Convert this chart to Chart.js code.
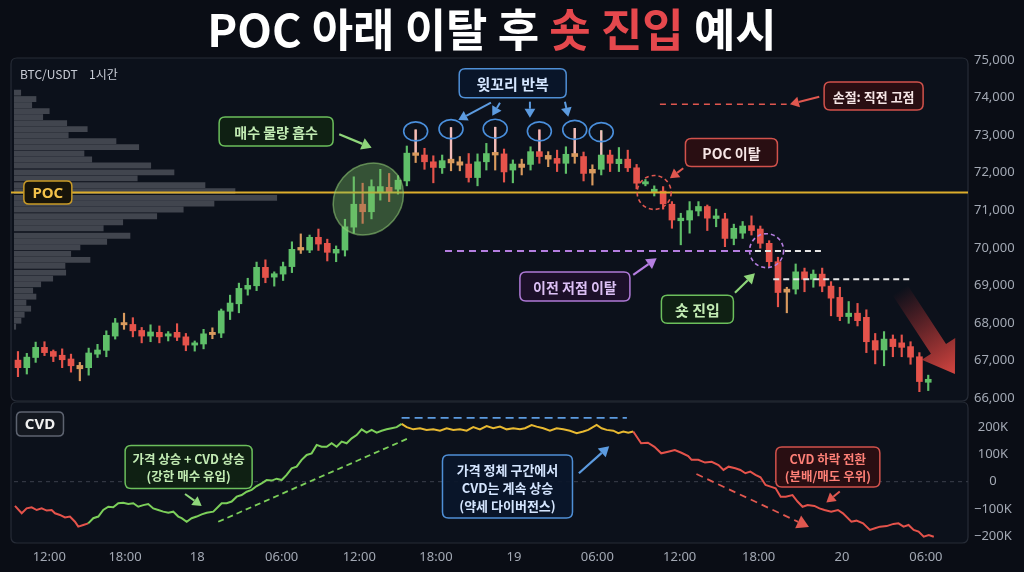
<!DOCTYPE html>
<html><head><meta charset="utf-8">
<script src="https://cdn.jsdelivr.net/npm/chart.js@4.4.1/dist/chart.umd.min.js"></script>
<style>html,body{margin:0;padding:0;background:#0a0d15;}canvas{display:block}</style>
</head><body>
<canvas id="c" width="1024" height="572"></canvas>
<script>
// ---------- DATA ----------
const opens=[67010,66810,67080,67350,67240,67140,67040,66870,66810,67170,
 67270,67650,68010,67960,67800,67650,67750,67650,67750,67630,
 67410,67440,67750,67730,68310,68510,68900,68990,69480,69220,
 69300,69500,70010,69940,70280,70120,69860,69940,70550,71160,
 70960,71480,71610,71560,71780,72530,72470,72290,72130,72360,
 72290,72230,71870,72290,72540,72500,72070,72230,72220,72560,
 72460,72380,72250,72510,72430,72090,72090,72470,72240,72360,
 72130,71700,71490,71510,71160,70720,70740,70980,71100,70780,
 70770,70250,70390,70590,70500,70120,69630,68900,68900,69360,
 69160,69300,68980,68680,68170,68260,68150,67530,67280,67570,
 67470,67370,67100,66420];
const closes=[66810,67090,67350,67210,67110,67020,66860,66780,67200,67280,
 67670,68000,67950,67790,67650,67760,67630,67710,67620,67410,
 67470,67710,67690,68320,68530,68920,69000,69480,69210,69310,
 69500,69960,69940,70280,70100,69880,69960,70560,71160,70960,
 71630,71630,71490,71800,72520,72460,72290,72140,72320,72260,
 72200,71870,72290,72510,72470,72020,72230,72140,72560,72430,
 72360,72250,72490,72430,71980,71990,72470,72250,72360,72130,
 71720,71760,71560,71170,70740,70790,70990,71100,70790,70850,
 70250,70520,70580,70460,70120,69630,68810,68820,69360,69160,
 69300,68980,68660,68170,68260,68060,67500,67280,67570,67370,
 67350,67090,66440,66500];
const highs=[67240,67190,67490,67500,67280,67310,67170,66950,67330,67430,
 67790,68120,68260,68140,67880,67950,67920,67770,67980,67720,
 67520,67830,67870,68370,68740,69060,69190,69620,69680,69360,
 69620,70160,70370,70340,70500,70230,70050,70760,71890,71720,
 71810,72090,71980,71920,72710,73140,72650,72450,72470,73200,
 72430,72510,72500,72780,73210,72630,72340,72360,72690,73140,
 72560,72600,72690,73180,72550,72210,73120,72600,72670,72600,
 72220,71820,71650,71630,71230,70920,71230,71230,71140,71030,
 70920,70630,70700,70850,70580,70190,69750,68950,69570,69460,
 69410,69460,69100,68950,68570,68520,68350,67720,67770,67680,
 67680,67500,67210,66610];
const lows=[66570,66640,66950,67130,66970,66810,66690,66460,66610,67080,
 67100,67570,67830,67630,67470,67500,67470,67520,67530,67260,
 67250,67310,67580,67610,68090,68270,68740,68860,69070,68980,
 69130,69340,69850,69870,69930,69650,69630,69780,70390,70650,
 70770,71270,71230,71430,71650,72270,72090,71730,71980,72050,
 72050,71750,71650,72070,72070,71750,71730,71940,72070,72250,
 72160,72030,71980,72250,71780,71670,71940,72030,72030,72030,
 71570,71650,71380,71030,70520,70080,70390,70850,70460,70560,
 70030,70080,70250,70340,69990,69500,68430,68270,68770,68830,
 68950,68830,68190,68060,67990,67920,67210,66910,66860,67100,
 67100,66900,66170,66200];
const wickHighlights=[46,50,55,60,64,67];

const volPrices=[74130,73960,73800,73640,73480,73320,73160,73000,72840,72680,72510,72350,72190,72010,71850,71670,71510,71330,71180,71020,70840,70680,70520,70320,70160,70010,69840,69680,69520,69340,69180,69030,68860,68700,68540,68380,68220,68060,67900];
const volAmounts=[27,88,71,141,115,211,293,217,408,499,280,311,547,640,493,764,884,1051,800,677,571,435,357,464,371,264,227,304,204,207,155,107,75,88,48,67,41,28,7];

const cvdIdx=[0.66,1.42,1.98,2.55,3.12,3.68,4.25,4.81,5.19,5.75,6.32,6.88,7.45,7.82,8.39,8.95,
 9.52,10.09,10.65,11.22,11.78,12.35,12.91,13.48,14.05,14.61,15.18,15.74,16.31,16.87,17.44,18.01,18.57,19.14,19.52,20.09,20.65,21.22,21.79,22.35,23.10,23.66,24.05,24.61,25.18,25.75,26.31,26.88,27.44,28.01,28.57,29.14,29.71,30.27,30.84,31.40,31.97,32.53,33.10,33.67,34.23,34.80,35.36,35.93,36.49,37.06,37.63,38.19,38.76,39.32,39.89,40.45,41.02,41.59,42.15,42.72,43.28,43.85,44.41,
 44.98,45.73,46.49,47.24,47.99,48.75,49.51,50.26,51.01,51.77,52.52,53.27,54.03,54.78,55.54,56.30,57.04,57.80,58.37,59.12,59.69,60.44,61.19,61.95,62.70,63.46,64.22,64.97,65.53,66.48,67.04,67.61,68.36,68.93,69.50,70.06,70.62,
 71.51,72.28,73.02,73.79,74.56,75.32,76.07,76.84,77.22,77.98,78.74,79.50,80.27,80.83,81.41,82.17,82.74,83.31,83.87,84.45,85.02,85.59,86.16,86.73,87.30,87.88,88.64,89.21,89.78,90.35,91.12,91.69,92.26,93.02,93.78,94.35,95.30,95.88,96.63,97.40,97.97,98.54,99.30,100.06,100.63,101.21,101.77,102.35,102.91,103.49,104.06,104.63];
const cvdK=[-89,-116,-98,-94,-104,-98,-106,-104,-116,-122,-131,-128,-147,-165,-159,-153,
 -134,-128,-104,-92,-94,-79,-77,-82,-79,-92,-86,-82,-98,-104,-110,-114,-110,-128,-134,-147,-134,-128,-120,-114,-110,-92,-79,-79,-73,-55,-49,-37,-30,-16,-6,6,4,11,6,25,49,55,80,98,104,135,128,128,141,128,147,141,159,171,192,180,190,180,187,192,196,200,212,
 200,192,196,190,192,187,196,190,192,187,200,192,204,196,202,192,196,192,196,208,202,196,187,196,192,187,178,184,190,208,196,190,187,178,184,180,184,
 141,143,128,104,110,116,106,94,80,80,70,73,61,43,55,49,43,31,37,25,16,-12,-18,-24,-55,-55,-49,-73,-92,-86,-89,-98,-104,-110,-104,-116,-147,-143,-153,-177,-171,-165,-163,-155,-153,-165,-159,-177,-183,-202,-196,-202];
const cvdGreenFrom=8.95, cvdYellowFrom=44.41, cvdRedFrom=70.62;

const priceTicks=[66000,67000,68000,69000,70000,71000,72000,73000,74000,75000];
const cvdTicks=[-200,-100,0,100,200];
const timeTickPos=[4.54,13.11,21.29,30.84,39.62,48.30,57.13,66.56,75.87,84.81,94.23,103.74];
const timeTickLabels=['12:00','18:00','18','06:00','12:00','18:00','19','06:00','12:00','18:00','20','06:00'];

const POC=71470, stopPrice=73821, prevLow=69915, entryLevel=69162, cvdPlateau=234;

// ---------- STYLE ----------
const GREEN='#5fbf69', RED='#e5534b', TAN='#d99a5e', WICK_HI='#f2bcbc';
const KR="'Noto Sans CJK KR','Noto Sans',sans-serif";
const AX="'Noto Sans','Liberation Sans',sans-serif";
function candleColor(i){const o=opens[i],c=closes[i]; if(c>=o) return GREEN; return (o-c)<110?TAN:RED;}

const bodyData=opens.map((o,i)=>({x:i+1,y:[o,closes[i]]}));
const wickData=opens.map((o,i)=>({x:i+1,y:[lows[i],highs[i]]}));
const hiWickData=wickHighlights.map(n=>({x:n,y:[Math.max(opens[n-1],closes[n-1]),highs[n-1]]}));
const cvdData=cvdIdx.map((x,i)=>({x,y:cvdK[i]}));
const volData=volPrices.map((p,i)=>({x:volAmounts[i],y:p}));

function rr(ctx,x,y,w,h,r){ctx.beginPath();ctx.moveTo(x+r,y);ctx.lineTo(x+w-r,y);ctx.quadraticCurveTo(x+w,y,x+w,y+r);ctx.lineTo(x+w,y+h-r);ctx.quadraticCurveTo(x+w,y+h,x+w-r,y+h);ctx.lineTo(x+r,y+h);ctx.quadraticCurveTo(x,y+h,x,y+h-r);ctx.lineTo(x,y+r);ctx.quadraticCurveTo(x,y,x+r,y);ctx.closePath();}
function box(ctx,cx,cy,w,h,o){
  rr(ctx,cx-w/2,cy-h/2,w,h,o.r||6); ctx.fillStyle=o.fill; ctx.fill(); ctx.lineWidth=o.lw||1.5; ctx.strokeStyle=o.stroke; ctx.setLineDash([]); ctx.stroke();
  ctx.fillStyle=o.color; ctx.font=o.font; ctx.textAlign='center'; ctx.textBaseline='middle';
  const n=o.lines.length; o.lines.forEach((t,i)=>ctx.fillText(t,cx,cy+(i-(n-1)/2)*(o.lh||17)+1));
}
function arrow(ctx,x1,y1,x2,y2,color,o){
  o=o||{}; const lw=o.lw||2, hl=o.head||9, hw=o.hw||hl*0.6;
  const ang=Math.atan2(y2-y1,x2-x1); const bx=x2-hl*Math.cos(ang), by=y2-hl*Math.sin(ang);
  ctx.save(); ctx.strokeStyle=color; ctx.fillStyle=color; ctx.lineWidth=lw; ctx.setLineDash(o.dash||[]);
  ctx.beginPath(); ctx.moveTo(x1,y1); ctx.lineTo(bx,by); ctx.stroke(); ctx.setLineDash([]);
  ctx.beginPath(); ctx.moveTo(x2,y2); ctx.lineTo(bx+hw*Math.sin(ang),by-hw*Math.cos(ang)); ctx.lineTo(bx-hw*Math.sin(ang),by+hw*Math.cos(ang)); ctx.closePath(); ctx.fill(); ctx.restore();
}
function dline(ctx,x1,y1,x2,y2,color,lw,dash){ctx.save();ctx.strokeStyle=color;ctx.lineWidth=lw;ctx.setLineDash(dash||[]);ctx.beginPath();ctx.moveTo(x1,y1);ctx.lineTo(x2,y2);ctx.stroke();ctx.restore();}
function circ(ctx,x,y,rx,ry,color,lw,dash){ctx.save();ctx.strokeStyle=color;ctx.lineWidth=lw;ctx.setLineDash(dash||[]);ctx.beginPath();ctx.ellipse(x,y,rx,ry,0,0,Math.PI*2);ctx.stroke();ctx.restore();}

const G={stroke:'#6cbf5c',fill:'rgba(16,34,18,0.92)',color:'#c3ecb4'};
const B={stroke:'#4f8fd6',fill:'rgba(10,22,42,0.92)',color:'#d5e6ff'};
const R={stroke:'#d2524c',fill:'rgba(44,14,17,0.92)',color:'#f6e6e6'};
const V={stroke:'#b07ad8',fill:'rgba(30,16,42,0.92)',color:'#dcc0f5'};

const deco={
 id:'deco',
 beforeDraw(chart){
  const {ctx,chartArea:a,scales:s}=chart; const yb=s.y.bottom;
  ctx.save();
  rr(ctx,a.left-3,a.top,a.right-a.left+3,yb-a.top,6); ctx.fillStyle='#0c111b'; ctx.fill(); ctx.strokeStyle='#272c37'; ctx.lineWidth=1.2; ctx.stroke();
  rr(ctx,a.left-3,yb+1,a.right-a.left+3,a.bottom-yb-1,6); ctx.fillStyle='#0c111b'; ctx.fill(); ctx.stroke();
  // title
  const parts=[['POC 아래 이탈 후 ','#ffffff'],['숏 진입','#e5484d'],[' 예시','#ffffff']];
  ctx.font="bold 45px "+KR; ctx.textBaseline='middle'; ctx.textAlign='left';
  const tot=parts.reduce((t,p)=>t+ctx.measureText(p[0]).width,0);
  let x=(a.left+a.right)/2+1-tot/2;
  parts.forEach(p=>{ctx.fillStyle=p[1]; ctx.fillText(p[0],x,30); x+=ctx.measureText(p[0]).width;});
  ctx.font="12px "+KR; ctx.fillStyle='#c9cdd6'; ctx.fillText('BTC/USDT',a.left+6,74);
  ctx.fillText('1시간',a.left+75,74);
  // CVD zero line
  dline(ctx,a.left,s.y2.getPixelForValue(0),a.right,s.y2.getPixelForValue(0),'#3a3f4b',1,[4,4]);
  ctx.restore();
 },
 afterDatasetsDraw(chart){
  const {ctx,chartArea:a,scales:s}=chart;
  const X=v=>s.x.getPixelForValue(v), P=v=>s.y.getPixelForValue(v), C=v=>s.y2.getPixelForValue(v);
  ctx.save();
  // POC
  dline(ctx,a.left-3,P(POC),a.right,P(POC),'#dcad2c',2);
  box(ctx,X(4.38),P(POC),48,23,{stroke:'#c99a26',fill:'#17140a',color:'#f3c24a',font:"bold 15px "+AX,lines:['POC'],r:5});
  // absorption ellipse
  ctx.beginPath(); ctx.ellipse(X(40.64),P(71300),38,33,-50*Math.PI/180,0,Math.PI*2);
  ctx.fillStyle='rgba(120,190,100,0.38)'; ctx.fill(); ctx.strokeStyle='rgba(150,210,120,0.55)'; ctx.lineWidth=1.5; ctx.stroke();
  box(ctx,X(30.21),P(73097),114,29,Object.assign({font:"bold 14px "+KR,lines:['매수 물량 흡수']},G));
  arrow(ctx,X(37.35),P(73022),X(41.02),P(72665),'#8fd67a',{lw:2.2,head:10});
  // wick circles
  wickHighlights.forEach(n=>circ(ctx,X(n),P(highs[n-1])+1.5,12,9.5,'#4a8fdc',1.6));
  box(ctx,X(56.98),P(74380),107,29,Object.assign({font:"bold 15px "+KR,lines:['윗꼬리 반복']},B));
  arrow(ctx,X(54.52),P(73863),X(50.82),P(73403),'#5c9be0',{lw:2,head:9});
  arrow(ctx,X(55.54),P(73863),X(54.67),P(73517),'#5c9be0',{lw:2,head:9});
  arrow(ctx,X(58.93),P(73890),X(58.93),P(73464),'#5c9be0',{lw:2,head:9});
  arrow(ctx,X(62.89),P(73890),X(63.27),P(73490),'#5c9be0',{lw:2,head:9});
  // stop loss
  dline(ctx,X(73.64),P(stopPrice),X(87.98),P(stopPrice),'#e0574f',1.6,[6,5]);
  box(ctx,X(97.82),P(74044),99,28,Object.assign({font:"bold 13px "+KR,lines:['손절: 직전 고점']},R));
  arrow(ctx,X(91.67),P(74023),X(88.35),P(73821),'#e0574f',{lw:2,head:9});
  // POC break
  box(ctx,X(81.73),P(72537),92,28,Object.assign({font:"bold 14px "+KR,lines:['POC 이탈']},R));
  arrow(ctx,X(76.28),P(72117),X(74.77),P(71851),'#e0574f',{lw:2,head:9});
  circ(ctx,X(72.99),P(71473),17,17,'#e0574f',1.6,[4,3]);
  // previous low break
  dline(ctx,X(49.32),P(prevLow),X(84.39),P(prevLow),'#b57ee0',2,[7,5]);
  dline(ctx,X(84.39),P(prevLow),X(92.31),P(prevLow),'#e6e6e6',2,[6,4]);
  circ(ctx,X(85.71),P(69923),17,17,'#b57ee0',1.6,[4,3]);
  box(ctx,X(64.02),P(68970),110,29,Object.assign({font:"bold 14px "+KR,lines:['이전 저점 이탈']},V));
  arrow(ctx,X(70.62),P(69277),X(73.27),P(69721),'#b57ee0',{lw:2.2,head:10});
  // entry
  dline(ctx,X(86.46),P(entryLevel),X(102.3),P(entryLevel),'#e6e6e6',2,[6,4]);
  box(ctx,X(77.88),P(68366),72,28,Object.assign({font:"bold 15px "+KR,lines:['숏 진입']},G));
  arrow(ctx,X(82.13),P(68805),X(84.39),P(69321),'#8fd67a',{lw:2.2,head:10});
  // big gradient arrow
  {const x1=X(100.8),y1=P(68877),x2=X(107.02),y2=P(66641);
   const ang=Math.atan2(y2-y1,x2-x1),len=Math.hypot(x2-x1,y2-y1),sw=18,hw=40,hl=30;
   ctx.save(); ctx.translate(x1,y1); ctx.rotate(ang);
   const g=ctx.createLinearGradient(0,0,len,0); g.addColorStop(0,'rgba(200,50,50,0)'); g.addColorStop(0.55,'rgba(210,62,58,0.55)'); g.addColorStop(1,'rgba(222,72,66,0.95)');
   ctx.fillStyle=g; ctx.beginPath(); ctx.moveTo(0,-sw/2); ctx.lineTo(len-hl,-sw/2); ctx.lineTo(len-hl,-hw/2); ctx.lineTo(len,0); ctx.lineTo(len-hl,hw/2); ctx.lineTo(len-hl,sw/2); ctx.lineTo(0,sw/2); ctx.closePath(); ctx.fill(); ctx.restore();}
  // ---- CVD panel ----
  box(ctx,X(3.49),C(212),47,24,{stroke:'#5d6370',fill:'#141820',color:'#f0f0f0',font:"bold 15px "+AX,lines:['CVD'],r:5});
  dline(ctx,X(23.66),C(-147),X(45.16),C(159),'#7ccf5a',1.8,[6,4]);
  box(ctx,X(20.31),C(54),127,43,Object.assign({font:"bold 12.5px "+KR,lines:['가격 상승 + CVD 상승','(강한 매수 유입)'],lh:17},G));
  arrow(ctx,X(19.9),C(-45),X(21.79),C(-89),'#8fd67a',{lw:2,head:9});
  dline(ctx,X(44.41),C(cvdPlateau),X(69.9),C(cvdPlateau),'#5c9be0',1.8,[8,5]);
  box(ctx,X(56.39),C(-18),130,63,Object.assign({font:"bold 13px "+KR,lines:['가격 정체 구간에서','CVD는 계속 상승','(약세 다이버전스)'],lh:18},B));
  arrow(ctx,X(64.47),C(31),X(67.9),C(130),'#5c9be0',{lw:2.2,head:10});
  arrow(ctx,X(77.77),C(28),X(90.51),C(-166),'#e0574f',{lw:1.8,head:12,hw:7,dash:[7,5]});
  box(ctx,X(92.64),C(54),104,40,Object.assign({font:"bold 12.5px "+KR,lines:['CVD 하락 전환','(분배/매도 우위)'],lh:17},R,{color:'#ff8077'}));
  arrow(ctx,X(93.99),C(-36),X(92.47),C(-76),'#e0574f',{lw:2,head:9});
  ctx.restore();
 }
};

new Chart(document.getElementById('c'),{
 type:'bar',
 data:{datasets:[
  {type:'bar',data:bodyData,xAxisID:'x',yAxisID:'y',grouped:false,barThickness:6,minBarLength:2,
   backgroundColor:c=>candleColor(c.dataIndex),borderWidth:0},
  {type:'bar',data:hiWickData,xAxisID:'x',yAxisID:'y',grouped:false,barThickness:1.6,backgroundColor:WICK_HI,borderWidth:0},
  {type:'bar',data:wickData,xAxisID:'x',yAxisID:'y',grouped:false,barThickness:1.5,
   backgroundColor:c=>candleColor(c.dataIndex),borderWidth:0},
  {type:'line',data:cvdData,xAxisID:'x',yAxisID:'y2',borderWidth:2,pointRadius:0,tension:0,borderColor:RED,
   segment:{borderColor:c=>{const x=c.p0.parsed.x; return x<cvdGreenFrom?RED:x<cvdYellowFrom?'#7ccf5a':x<cvdRedFrom?'#e8b931':RED;}}},
  {type:'bar',indexAxis:'y',data:volData,xAxisID:'xv',yAxisID:'y',grouped:false,barThickness:5.2,backgroundColor:'#41454e',borderWidth:0}
 ]},
 options:{
  responsive:false,animation:false,events:[],
  layout:{padding:{left:14,top:58,right:0,bottom:0}},
  plugins:{legend:{display:false},tooltip:{enabled:false},title:{display:false}},
  scales:{
   x:{type:'linear',axis:'x',position:'bottom',min:0.55,max:108.5,offset:false,
      grid:{display:false,drawTicks:false},border:{display:false},
      afterBuildTicks:sc=>{sc.ticks=timeTickPos.map(v=>({value:v}));},
      afterFit:sc=>{sc.height=29;},
      ticks:{autoSkip:false,maxRotation:0,padding:6,color:'#a3a9b4',font:{family:AX,size:13},callback:(v,i)=>timeTickLabels[i]}},
   xv:{type:'linear',axis:'x',display:false,min:0,max:3816,offset:false},
   y:{type:'linear',axis:'y',position:'right',stack:'panels',stackWeight:343,min:65922,max:75053,offset:false,beginAtZero:false,
      grid:{display:false,drawTicks:false},border:{display:false},
      afterBuildTicks:sc=>{sc.ticks=priceTicks.map(v=>({value:v}));},
      afterFit:sc=>{sc.width=56;},
      ticks:{padding:6,crossAlign:'center',color:'#a3a9b4',font:{family:AX,size:13},callback:v=>v.toLocaleString('en-US')}},
   y2:{type:'linear',axis:'y',position:'right',stack:'panels',stackWeight:142,min:-225,max:296,offset:false,
      grid:{display:false,drawTicks:false},border:{display:false},
      afterBuildTicks:sc=>{sc.ticks=cvdTicks.map(v=>({value:v}));},
      afterFit:sc=>{sc.width=56;},
      ticks:{padding:6,crossAlign:'center',color:'#a3a9b4',font:{family:AX,size:13},callback:v=>v===0?'0':(v<0?'\u2212':'')+Math.abs(v)+'K'}}
  }
 },
 plugins:[deco]
});
</script></body></html>
